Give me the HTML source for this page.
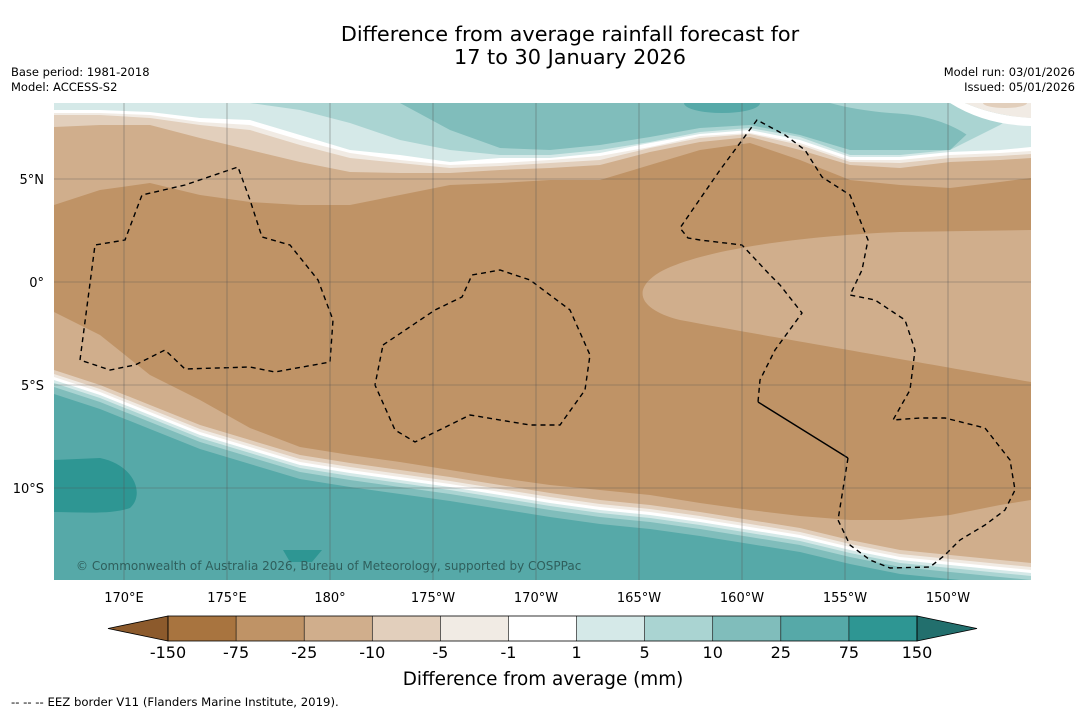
<!DOCTYPE html>
<html><head><meta charset="utf-8"><style>
body{margin:0;background:#fff;width:1085px;height:713px;overflow:hidden;font-family:"Liberation Sans","DejaVu Sans",sans-serif}
svg{display:block}
</style></head><body>
<svg id="s" width="1085" height="713" xmlns="http://www.w3.org/2000/svg">
<text x="570" y="41" font-size="20.8" text-anchor="middle" font-family="DejaVu Sans, sans-serif">Difference from average rainfall forecast for</text>
<text x="570" y="64" font-size="20.8" text-anchor="middle" font-family="DejaVu Sans, sans-serif">17 to 30 January 2026</text>
<text x="11" y="76" font-size="11.5" font-family="DejaVu Sans, sans-serif">Base period: 1981-2018</text>
<text x="11" y="91" font-size="11.5" font-family="DejaVu Sans, sans-serif">Model: ACCESS-S2</text>
<text x="1075" y="76" font-size="11.5" text-anchor="end" font-family="DejaVu Sans, sans-serif">Model run: 03/01/2026</text>
<text x="1075" y="91" font-size="11.5" text-anchor="end" font-family="DejaVu Sans, sans-serif">Issued: 05/01/2026</text>
<defs><clipPath id="mc"><rect x="54" y="103" width="977" height="477"/></clipPath></defs>
<g id="map" clip-path="url(#mc)"></g>
<g id="axes"></g>
<g id="cbar"></g>
<text x="543" y="685" font-size="18.4" text-anchor="middle" font-family="DejaVu Sans, sans-serif">Difference from average (mm)</text>
<text x="11" y="706" font-size="11.7" font-family="DejaVu Sans, sans-serif">--  --  -- EEZ border V11 (Flanders Marine Institute, 2019).</text>
</svg>
<script>
const NS='http://www.w3.org/2000/svg';
const levelLabels=['-150','-75','-25','-10','-5','-1','1','5','10','25','75','150'];
const levelColors=['#8c5a2c','#a8743f','#bf9366','#d0ae8c','#e2cfbc','#f1ebe4','#ffffff','#d5e9e8','#aad4d2','#80bdbb','#56a9a8','#2e9693','#226f6d'];
const lonTicks=['170°E','175°E','180°','175°W','170°W','165°W','160°W','155°W','150°W'];
const lonVals=[170,175,180,185,190,195,200,205,210];
const latTicks=['5°N','0°','5°S','10°S'];
const latVals=[5,0,-5,-10];
const xs=[54,100,150,200,250,300,350,400,450,500,550,600,650,700,750,800,850,900,950,1000,1031];
// top bands (y of lower edge)
const topB=[
 ['#d0ae8c',[205,190,183,195,202,205,205,195,185,183,180,180,165,150,143,160,180,185,188,182,178]],
 ['#e2cfbc',[127,125,125,138,150,162,172,173,173,170,168,165,152,142,137,150,165,168,162,160,158]],
 ['#f1ebe4',[115,115,118,125,130,145,158,163,168,166,163,160,148,138,134,145,162,163,158,156,154]],
 ['#ffffff',[113,113,115,122,125,140,153,160,165,163,160,156,147,136,133,143,160,160,155,153,151]],
 ['#d5e9e8',[110,110,112,118,120,135,150,155,162,158,158,153,143,134,130,140,157,157,152,150,147]],
 ['#aad4d2',[103,103,103,103,103,110,123,140,150,155,155,150,142,132,128,137,155,155,150,125,103]],
 ['#80bdbb',[103,103,103,103,103,103,103,103,130,148,150,145,137,128,125,135,150,150,150,103,103]]
];
const C2=[370,385,405,425,440,455,463,470,477,485,493,500,505,512,520,528,540,550,555,560,563];
const C1=[312,335,375,400,428,447,455,462,470,478,485,490,495,503,510,516,520,520,515,505,500];
const botOff=[['#e2cfbc',0],['#f1ebe4',4],['#ffffff',7],['#d5e9e8',10],['#aad4d2',13],['#80bdbb',17],['#56a9a8',24]];
const X=lon=>124+(lon-170)*20.6, Y=lat=>282-lat*20.6;
function el(t,a,p){const e=document.createElementNS(NS,t);for(const k in a)e.setAttribute(k,a[k]);p.appendChild(e);return e;}
function line(ys){return xs.map((x,i)=>x+','+ys[i]).join(' L');}
const map=document.getElementById('map');
let r=el('rect',{x:54,y:103,width:977,height:477,fill:'#bf9366'},map);


topB.forEach((b,i)=>{let p=el('path',{d:'M54,100 L1031,100 L'+[...xs].reverse().map((x,j)=>x+','+b[1][xs.length-1-j]).join(' L')+' Z',fill:b[0]},map);

});
let tp=el('ellipse',{cx:722,cy:103,rx:38,ry:10,fill:'#56a9a8'},map);


let o1=el('path',{d:'M830,103 L1000,103 L1000,108 Q980,112 995,120 L970,137 Q940,115 890,113 Q855,110 830,103 Z',fill:'#aad4d2'},map);


let tr=el('path',{d:'M950,103 Q985,125 1031,126 L1031,118 Q995,116 965,103 Z',fill:'#ffffff'},map);


let tr3=el('path',{d:'M965,103 Q995,116 1031,118 L1031,103 Z',fill:'#f1ebe4'},map);


let tr2=el('ellipse',{cx:1005,cy:103,rx:22,ry:5,fill:'#e2cfbc'},map);


// mid tongue
let tg=el('path',{d:'M1031,230 L900,232 C800,236 700,250 660,272 C630,290 640,310 680,320 C760,335 850,350 1031,382 Z',fill:'#d0ae8c'},map);


let b1=el('path',{d:'M'+line(C1)+' L1031,590 L54,590 Z',fill:'#d0ae8c'},map);


botOff.forEach((b,i)=>{let p=el('path',{d:'M'+line(C2.map(v=>v+b[1]))+' L1031,590 L54,590 Z',fill:b[0]},map);

});
let d1=el('path',{d:'M54,460 L100,458 C135,465 145,495 130,508 C110,515 80,512 54,512 Z',fill:'#2e9693'},map);


let d2=el('path',{d:'M283,550 L322,550 L312,562 L290,562 Z',fill:'#2e9693'},map);


const eez=[
 [[80,360],[95,245],[125,240],[142,195],[185,185],[238,167],[250,200],[262,237],[290,245],[318,280],[333,320],[330,362],[275,372],[250,367],[185,369],[165,350],[155,355],[135,365],[110,370],[80,360]],
 [[383,345],[435,310],[462,297],[472,275],[500,270],[530,280],[570,310],[590,355],[585,390],[560,425],[530,425],[470,415],[415,442],[395,430],[375,385],[383,345]],
 [[848,458],[838,520],[850,545],[870,560],[890,568],[930,567],[945,555],[960,540],[985,525],[1005,510],[1015,490],[1010,460],[985,428],[945,418],[920,418],[893,420],[910,390],[915,350],[905,320],[875,300],[850,295],[862,270],[868,240],[850,195],[822,177],[805,150],[785,135],[757,120],[720,170],[680,228],[688,238],[700,240],[742,245],[770,275],[780,285],[802,313],[775,350],[760,380],[758,402]]
];
eez.forEach((pts,i)=>{let p=el('polyline',{points:pts.map(q=>q.join(',')).join(' '),fill:'none',stroke:'#000','stroke-width':1.4,'stroke-dasharray':'5,4'},map);

});
let sl=el('line',{x1:758,y1:402,x2:848,y2:458,stroke:'#000','stroke-width':1.4},map);


const ax=document.getElementById('axes');
lonVals.forEach((v,i)=>{let g=el('line',{x1:X(v),y1:103,x2:X(v),y2:580,stroke:'#555','stroke-width':0.6,opacity:0.7},map);


let t=el('text',{x:X(v),y:602,'font-size':13,'text-anchor':'middle','font-family':'DejaVu Sans, sans-serif'},ax);t.textContent=lonTicks[i];

});
latVals.forEach((v,i)=>{let g=el('line',{x1:54,y1:Y(v),x2:1031,y2:Y(v),stroke:'#555','stroke-width':0.6,opacity:0.7},map);


let t=el('text',{x:44,y:Y(v)+5,'font-size':13,'text-anchor':'end','font-family':'DejaVu Sans, sans-serif'},ax);t.textContent=latTicks[i];

});
let cp=el('text',{x:76,y:570,'font-size':12,fill:'#2f5f5c','font-family':'DejaVu Sans, sans-serif'},map);cp.textContent='© Commonwealth of Australia 2026, Bureau of Meteorology, supported by COSPPac';


const cb=document.getElementById('cbar');
const cx0=168,cw=(917-168)/11,cy=616,ch=25;
let lt=el('polygon',{points:`108,${cy+ch/2} ${cx0},${cy} ${cx0},${cy+ch}`,fill:levelColors[0],stroke:'#000','stroke-width':0.8},cb);


for(let i=0;i<11;i++){let rr=el('rect',{x:cx0+i*cw,y:cy,width:cw,height:ch,fill:levelColors[i+1]},cb);

}
let rt=el('polygon',{points:`977,${cy+ch/2} 917,${cy} 917,${cy+ch}`,fill:levelColors[12],stroke:'#000','stroke-width':0.8},cb);


el('rect',{x:cx0,y:cy,width:917-cx0,height:ch,fill:'none',stroke:'#000','stroke-width':0.8},cb);
levelLabels.forEach((l,i)=>{let x=cx0+i*cw;el('line',{x1:x,y1:cy,x2:x,y2:cy+ch,stroke:'#000','stroke-width':0.6},cb);
let t=el('text',{x:x,y:658,'font-size':16,'text-anchor':'middle','font-family':'DejaVu Sans, sans-serif'},cb);t.textContent=l;

});
</script>
</body></html>
